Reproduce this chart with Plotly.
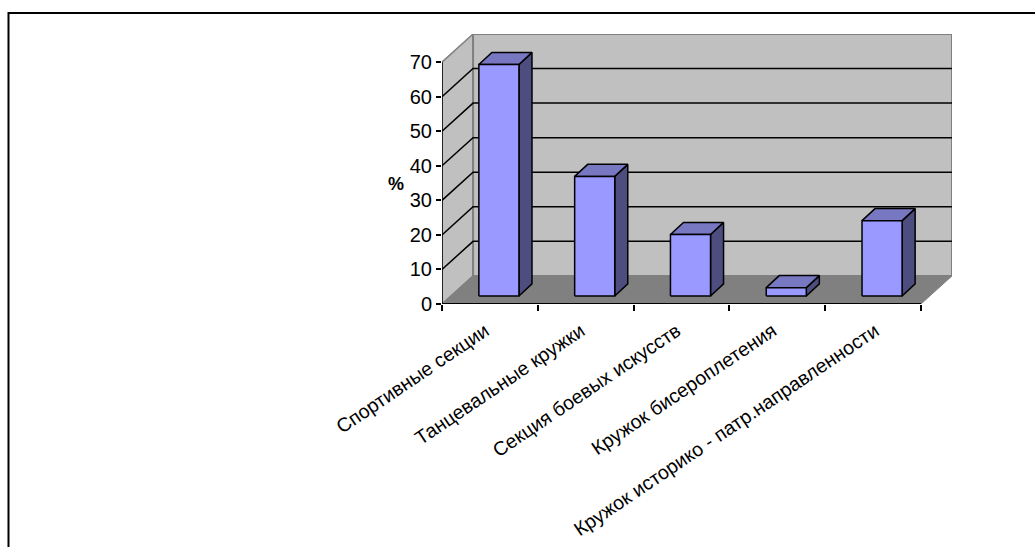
import plotly.graph_objects as go

categories = ["Спортивные секции", "Танцевальные кружки", "Секция боевых искусств",
              "Кружок бисероплетения", "Кружок историко - патр.направленности"]
values = [67, 34.6, 17.8, 2.4, 21.8]
y_ticks = [0, 10, 20, 30, 40, 50, 60, 70]
x_bounds = [0, 1, 2, 3, 4, 5]
label_positions = [0.45, 1.45, 2.45, 3.45, 4.52]

PX_X = 95.6   # pixels per category
PX_Y = 3.44   # pixels per percent
W_DX, W_DY = 31 / PX_X, 28 / PX_Y   # depth of the chart box
B_DX, B_DY = 13 / PX_X, 12 / PX_Y   # depth of a bar
F_DX, F_DY = 9 / PX_X, 8 / PX_Y     # gap in front of a bar
HALF = 20 / PX_X
N = len(categories)
TOP = y_ticks[-1]

FRONT, TOPC, SIDE = "#9999FF", "#7777C2", "#4D4D80"

fig = go.Figure()


def poly(xs, ys, fill, line, width=1.5):
    fig.add_trace(go.Scatter(
        x=xs + xs[:1], y=ys + ys[:1], mode="lines", fill="toself", fillcolor=fill,
        line=dict(color=line, width=width), hoverinfo="skip", showlegend=False, cliponaxis=False))


def seg(xs, ys, color, width=1.5):
    fig.add_trace(go.Scatter(
        x=xs, y=ys, mode="lines", line=dict(color=color, width=width),
        hoverinfo="skip", showlegend=False, cliponaxis=False))


# walls and floor
poly([0, W_DX, W_DX, 0], [0, W_DY, TOP + W_DY, TOP], "#C0C0C0", "#808080", 1.5)
poly([W_DX, N + W_DX, N + W_DX, W_DX], [W_DY, W_DY, TOP + W_DY, TOP + W_DY], "#C0C0C0", "#808080", 2)
poly([0, N, N + W_DX, W_DX], [0, 0, W_DY, W_DY], "#808080", "#808080", 1)

# gridlines on both walls
for t in y_ticks[1:-1]:
    seg([0, W_DX, N + W_DX], [t, t + W_DY, t + W_DY], "#000000", 1.5)

# bars
for i, v in enumerate(values):
    x0 = i + 0.5 + F_DX - HALF
    x1 = i + 0.5 + F_DX + HALF
    y0 = F_DY
    y1 = F_DY + v
    poly([x1, x1 + B_DX, x1 + B_DX, x1], [y0, y0 + B_DY, y1 + B_DY, y1], SIDE, "#000000")
    poly([x0, x1, x1 + B_DX, x0 + B_DX], [y1, y1, y1 + B_DY, y1 + B_DY], TOPC, "#000000")
    poly([x0, x1, x1, x0], [y0, y0, y1, y1], FRONT, "#000000")

# axis lines
seg([0, N], [0, 0], "#000000", 2)
seg([0, 0], [0, TOP], "#000000", 1.5)

fig.update_xaxes(
    range=[0, N + W_DX], showgrid=False, zeroline=False, showline=False, automargin=False,
    tickmode="array", tickvals=label_positions, ticktext=categories,
    ticks="", tickangle=-34, ticklen=0, ticklabelstandoff=11,
    tickfont=dict(family="Liberation Sans", size=19.5, color="#000000"),
    minor=dict(tickmode="array", tickvals=x_bounds, ticks="outside", ticklen=6, tickwidth=1.5,
               tickcolor="#000000", showgrid=False),
)
fig.update_yaxes(
    range=[0, TOP + W_DY], showgrid=False, zeroline=False, showline=False, automargin=False,
    tickmode="array", tickvals=y_ticks, ticks="outside", ticklen=5, tickwidth=1.5,
    tickcolor="#000000", tickfont=dict(family="Liberation Sans", size=20, color="#000000"),
)

fig.update_layout(
    width=1035, height=547, margin=dict(l=442, r=83, t=34, b=243, autoexpand=False),
    paper_bgcolor="#FFFFFF", plot_bgcolor="#FFFFFF", showlegend=False,
    annotations=[dict(text="<b>%</b>", xref="paper", yref="paper", x=-0.09, y=0.445, xshift=-10,
                      showarrow=False, font=dict(family="Liberation Sans", size=18, color="#000000"))],
    shapes=[dict(type="rect", xref="paper", yref="paper", x0=-0.85, x1=1.3, y0=-1.0, y1=1.078,
                 line=dict(color="#000000", width=2), layer="below")],
)

fig.write_html("out.html", config={"displayModeBar": False},
               post_script="document.body.style.margin='0';document.body.style.overflow='hidden';")
